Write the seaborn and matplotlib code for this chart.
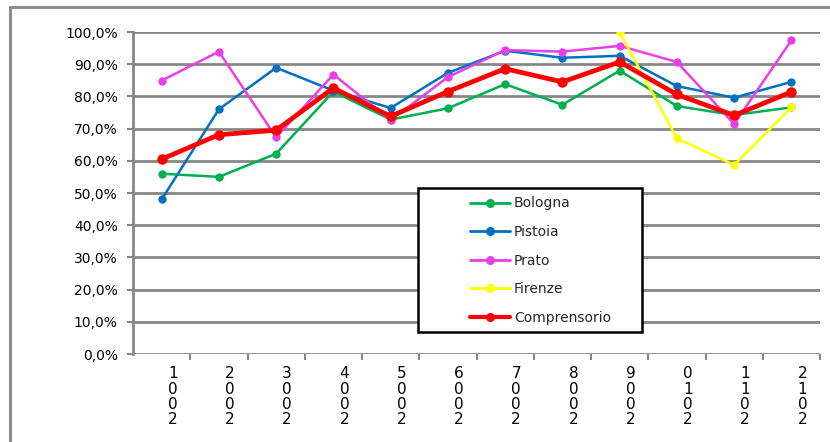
import matplotlib
matplotlib.use("Agg")
import matplotlib.pyplot as plt
from matplotlib.lines import Line2D
from matplotlib.patches import Rectangle
from matplotlib.ticker import FuncFormatter, FixedLocator
import matplotlib.transforms as mtransforms
import numpy as np
import seaborn as sns

years = ["2001", "2002", "2003", "2004", "2005", "2006",
         "2007", "2008", "2009", "2010", "2011", "2012"]

bologna = [56.0, 55.0, 62.2, 81.5, 72.8, 76.3, 83.8, 77.4, 88.0, 77.0, 74.2, 76.6]
pistoia = [48.0, 76.0, 88.9, 81.8, 76.4, 87.3, 94.2, 92.0, 92.6, 83.2, 79.6, 84.5]
prato = [84.9, 93.9, 67.3, 86.8, 72.6, 86.0, 94.4, 93.9, 95.7, 90.7, 71.4, 97.4]
firenze = [np.nan, np.nan, np.nan, np.nan, np.nan, np.nan,
           np.nan, np.nan, 100.0, 67.0, 58.7, 76.6]
comprensorio = [60.5, 68.1, 69.5, 82.6, 73.8, 81.5, 88.6, 84.5, 90.7, 80.6, 74.1, 81.4]

series_names = ["Bologna", "Pistoia", "Prato", "Firenze", "Comprensorio"]
series_values = [bologna, pistoia, prato, firenze, comprensorio]
series_colors = ["#00B050", "#0070C0", "#E840E8", "#FFFF00", "#FF0000"]
series_lw = [1.8, 1.8, 1.8, 1.8, 3.4]
series_ms = [6.0, 6.0, 6.0, 6.0, 7.5]

sns.set_theme(style="white")
plt.rcParams["font.family"] = ["DejaVu Sans"]

W, H = 830, 442
fig = plt.figure(figsize=(W / 100, H / 100), dpi=100)
ax = fig.add_axes([133 / W, 1 - 354 / H, (820 - 133) / W, (354 - 32) / H])

grid_color = "#878787"
x = np.arange(len(years))
for name, vals, col, lw, ms in zip(series_names, series_values, series_colors,
                                   series_lw, series_ms):
    y = np.array(vals) / 100.0
    sns.lineplot(x=x, y=y, ax=ax, color=col, linewidth=lw, marker="o",
                 markersize=ms, markeredgewidth=0, label=name, zorder=3,
                 legend=False)

ax.set_xlim(-0.5, len(years) - 0.5)
ax.set_ylim(0, 1.0)
ax.set_yticks(np.arange(0, 1.01, 0.1))
ax.yaxis.set_major_formatter(FuncFormatter(
    lambda v, p: f"{v * 100:.1f}%".replace(".", ",")))
ax.yaxis.grid(True, color=grid_color, linewidth=2.0)
ax.set_axisbelow(True)
ax.tick_params(axis="y", which="major", length=4, width=1.5, color=grid_color,
               pad=7, labelsize=10, labelcolor="black", left=True)

# x labels: year digits stacked from last to first
ax.set_xticks(x)
ax.set_xticklabels(["\n".join(reversed(yr)) for yr in years],
                   fontsize=11, linespacing=1.02, color="black")
ax.tick_params(axis="x", which="major", length=0, pad=9)
offset = mtransforms.ScaledTranslation(11 / 100, 0, fig.dpi_scale_trans)
for lab in ax.get_xticklabels():
    lab.set_transform(lab.get_transform() + offset)
ax.xaxis.set_minor_locator(FixedLocator(np.arange(0.5, len(years), 1.0)))
ax.tick_params(axis="x", which="minor", length=4, width=1.5, color=grid_color,
               bottom=True)

for side in ["top", "right", "bottom"]:
    ax.spines[side].set_visible(False)
ax.spines["left"].set_color(grid_color)
ax.spines["left"].set_linewidth(2.0)
ax.set_xlabel("")
ax.set_ylabel("")

# legend box (white, outlined) with the legend entries on top
fig.patches.append(Rectangle((418 / W, 1 - 332 / H), (642 - 418) / W,
                             (332 - 188) / H, transform=fig.transFigure,
                             facecolor="white", edgecolor="black", linewidth=1.8,
                             zorder=5))
handles = [Line2D([], [], color=c, linewidth=2.0 if n != "Comprensorio" else 3.0,
                  marker="o", markersize=6.5, markeredgewidth=0)
           for n, c in zip(series_names, series_colors)]
leg = fig.legend(handles, series_names, loc="upper left",
                 bbox_to_anchor=(470 / W, 1 - 196.5 / H), frameon=False,
                 fontsize=10, borderpad=0, handlelength=2.9, handletextpad=0.25,
                 labelspacing=1.05, borderaxespad=0)
leg.set_zorder(6)

# outer frame (left and top edges)
fig.add_artist(Line2D([9.5 / W, 9.5 / W], [0, 1 - 7 / H], transform=fig.transFigure,
                      color="#8C8C8C", linewidth=2.2))
fig.add_artist(Line2D([9.5 / W, 1], [1 - 7 / H, 1 - 7 / H], transform=fig.transFigure,
                      color="#8C8C8C", linewidth=2.2))

fig.savefig("out.png", dpi=100)
